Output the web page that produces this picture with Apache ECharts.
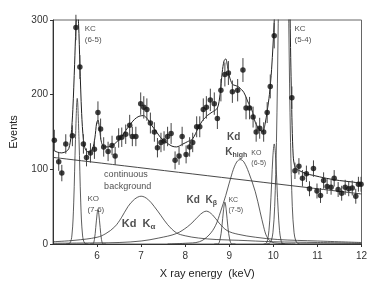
<!DOCTYPE html>
<html><head><meta charset="utf-8">
<script src="https://cdn.jsdelivr.net/npm/echarts@6/dist/echarts.min.js"></script>
<style>html,body{margin:0;padding:0;background:#fff}#c{width:382px;height:288px}</style>
</head><body><div id="c"></div>
<script>
// ---- data ----
const xTicks = [5, 6, 7, 8, 9, 10, 11, 12];
const yTicks = [0, 100, 200, 300];

const pointX = [5.03,5.13,5.20,5.29,5.44,5.52,5.61,5.69,5.76,5.85,5.94,6.02,6.08,6.15,6.25,6.34,6.41,6.49,6.56,6.65,6.74,6.80,6.88,6.99,7.06,7.13,7.21,7.30,7.37,7.45,7.52,7.60,7.68,7.77,7.86,7.93,8.02,8.10,8.17,8.26,8.33,8.41,8.48,8.57,8.66,8.73,8.81,8.90,8.98,9.07,9.19,9.31,9.38,9.46,9.54,9.61,9.69,9.78,9.86,9.93,10.02,10.42,10.49,10.58,10.66,10.75,10.82,10.91,10.99,11.07,11.14,11.22,11.31,11.38,11.47,11.55,11.63,11.71,11.79,11.87,11.93,11.99];
const pointY = [139,110,95,134,145,290,237,134,116,122,127,176,154,130,124,132,118,142,143,147,159,144,144,188,183,180,162,150,129,136,138,144,148,112,118,144,120,130,136,157,157,180,183,193,188,168,206,227,229,204,206,233,182,182,170,150,155,150,176,211,279,196,98,104,88,94,74,101,71,65,85,77,76,88,73,68,76,74,75,64,80,80];
const pointErr = [14,12,11,13,14,17,16,13,12,13,13,15,14,13,13,13,12,13,13,13,14,13,13,15,15,15,14,13,13,13,13,13,14,12,12,13,12,13,13,14,14,15,15,15,15,14,15,16,16,15,15,16,15,15,14,13,14,13,14,16,17,15,11,11,11,11,10,11,10,10,11,10,10,11,10,10,10,10,10,10,10,10];

const fitCurve = [[5.00,126],[5.10,123],[5.20,122],[5.30,124],[5.36,128],[5.41,145],[5.45,180],[5.49,240],[5.52,290],[5.55,315],[5.58,295],[5.61,240],[5.65,175],[5.69,140],[5.74,126],[5.82,123],[5.90,128],[5.95,142],[5.99,162],[6.02,166],[6.06,152],[6.10,136],[6.16,130],[6.25,130],[6.35,132],[6.45,137],[6.55,143],[6.65,152],[6.75,160],[6.85,167],[6.95,171],[7.05,172],[7.15,167],[7.25,158],[7.35,150],[7.45,142],[7.57,136],[7.70,131],[7.80,130],[7.95,134],[8.05,137],[8.17,141],[8.30,156],[8.39,165],[8.50,172],[8.62,177],[8.73,182],[8.79,200],[8.84,230],[8.88,245],[8.92,248],[8.96,238],[9.00,225],[9.07,214],[9.15,212],[9.22,210],[9.33,203],[9.44,188],[9.51,180],[9.59,163],[9.70,152],[9.76,151],[9.81,160],[9.86,178],[9.91,200],[9.96,234],[10.02,299],[10.07,380],[10.12,520],[10.18,760],[10.23,900],[10.28,720],[10.33,480],[10.38,300],[10.41,200],[10.45,118],[10.50,102],[10.60,98],[10.75,94],[10.90,92],[11.20,88],[11.50,85],[11.80,83],[12.00,81]];
const background = [[5.0,116],[12.0,67]];
const kcPeak65 = [[5.30,0],[5.38,1],[5.43,12],[5.47,55],[5.51,140],[5.55,195],[5.59,140],[5.63,55],[5.67,12],[5.72,1],[5.80,0]];
const koPeak76 = [[5.84,0],[5.90,0],[5.94,6],[5.97,22],[6.00,40],[6.02,46],[6.04,40],[6.07,22],[6.10,6],[6.14,0],[6.20,0]];
const kdKalpha = [[5.0,3],[5.5,5],[6.0,9],[6.2,14],[6.4,23],[6.55,35],[6.7,50],[6.85,60],[7.0,64],[7.15,60],[7.3,50],[7.45,38],[7.6,26],[7.8,15],[8.0,11],[8.3,8],[8.7,6],[9.2,5],[10,3],[11,2],[12,1]];
const kdKbeta = [[5.0,1],[6.0,1.5],[6.5,2],[7.0,4],[7.4,8],[7.8,14],[8.05,23],[8.2,31],[8.35,40],[8.48,44],[8.62,39],[8.77,28],[8.95,18],[9.2,13],[9.6,9],[10.1,6],[11,4],[12,2]];
const kcPeak75 = [[8.66,0],[8.74,0],[8.79,6],[8.83,22],[8.87,46],[8.90,56],[8.93,46],[8.97,22],[9.01,6],[9.06,0],[9.14,0]];
const kdKhigh = [[7.6,0],[8.0,1],[8.32,3],[8.54,12],[8.69,25],[8.80,43],[8.92,65],[9.07,96],[9.17,110],[9.25,113],[9.33,110],[9.44,96],[9.59,70],[9.70,43],[9.78,23],[9.85,10],[9.95,3],[10.1,1],[10.5,0]];
const koPeak65 = [[9.78,0],[9.84,1],[9.87,6],[9.90,18],[9.93,44],[9.96,81],[9.99,118],[10.02,134],[10.05,118],[10.08,81],[10.11,44],[10.14,18],[10.17,6],[10.20,1],[10.26,0]];
const kcPeak54 = [[9.85,0],[9.91,1],[9.95,4],[9.99,15],[10.03,50],[10.07,136],[10.11,295],[10.15,514],[10.19,716],[10.23,800],[10.27,716],[10.31,514],[10.35,295],[10.39,136],[10.43,50],[10.47,15],[10.51,4],[10.55,1],[10.62,0],[12,0]];

const annotations = [
  {at:[5.72,281], text:'KC\n(6-5)', size:8},
  {at:[10.48,281], text:'KC\n(5-4)', size:8},
  {at:[5.78,53], text:'KO\n(7-6)', size:8},
  {at:[6.16,85], text:'continuous\nbackground', size:9},
  {at:[6.56,27], text:'Kd  K{s|α}', size:11, bold:true},
  {at:[8.03,59], text:'Kd  K{s|β}', size:10, bold:true},
  {at:[8.98,52], text:'KC\n(7-5)', size:7},
  {at:[8.95,143], text:'Kd', size:10, bold:true},
  {at:[8.91,123], text:'K{s|high}', size:10, bold:true},
  {at:[9.50,115], text:'KO\n(6-5)', size:7}
];

// ---- chart ----
const chart = echarts.init(document.getElementById('c'), null, {renderer:'canvas'});
const FONT = 'Liberation Sans, Arial, sans-serif';
function comp(data, w){
  return {type:'line', data:data, smooth:0.35, showSymbol:false, silent:true,
    lineStyle:{color:'#333', width:w||0.8}, z:2};
}
const errData = pointX.map((x,i)=>[x, pointY[i]-pointErr[i], pointY[i]+pointErr[i]]);
const scatterData = pointX.map((x,i)=>[x, pointY[i]]);

chart.setOption({
  animation:false,
  backgroundColor:'#fff',
  grid:{left:48.5, right:20.5, top:20, bottom:44, show:true, borderColor:'#666', borderWidth:1},
  xAxis:{type:'value', min:xTicks[0], max:xTicks[xTicks.length-1], interval:1,
    name:'X ray energy  (keV)', nameLocation:'middle', nameGap:24,
    nameTextStyle:{fontFamily:FONT, fontSize:11, color:'#222'},
    axisLine:{show:true, onZero:false, lineStyle:{color:'#333', width:1}},
    axisTick:{show:true, length:3, lineStyle:{color:'#333'}},
    axisLabel:{showMinLabel:false, fontFamily:FONT, fontSize:10, color:'#333', margin:7},
    splitLine:{show:false}},
  yAxis:{type:'value', min:yTicks[0], max:yTicks[yTicks.length-1], interval:100,
    name:'Events', nameLocation:'middle', nameGap:34,
    nameTextStyle:{fontFamily:FONT, fontSize:11, color:'#222'},
    axisLine:{show:true, lineStyle:{color:'#333', width:1}},
    axisTick:{show:true, length:3, lineStyle:{color:'#333'}},
    axisLabel:{fontFamily:FONT, fontSize:10, color:'#333', margin:5},
    splitLine:{show:false}},
  series:[
    comp(background, 0.9),
    comp(kcPeak65), comp(koPeak76), comp(kdKalpha), comp(kdKbeta),
    comp(kcPeak75), comp(kdKhigh), comp(koPeak65), comp(kcPeak54),
    {type:'line', data:fitCurve, smooth:0.3, showSymbol:false, silent:true,
      lineStyle:{color:'#222', width:1}, z:3},
    {type:'custom', data:errData, z:4, silent:true,
      renderItem:function(params, api){
        const a = api.coord([api.value(0), api.value(1)]);
        const b = api.coord([api.value(0), api.value(2)]);
        return {type:'line', shape:{x1:a[0], y1:a[1], x2:b[0], y2:b[1]},
          style:{stroke:'#444', lineWidth:1}};
      }},
    {type:'scatter', data:scatterData, symbol:'circle', symbolSize:5.5, z:5,
      itemStyle:{color:'#111'}},
    {type:'scatter', symbolSize:0, silent:true, z:6,
      data:annotations.map(a=>({value:a.at,
        label:{show:true, position:[0,0], align:'left', verticalAlign:'middle',
          formatter:a.text, fontFamily:FONT, fontSize:a.size,
          fontWeight:a.bold?'bold':'normal', color:'#222', lineHeight:a.size+3,
          rich:{s:{fontFamily:FONT, fontSize:Math.round(a.size*0.7), fontWeight:'bold', color:'#222', padding:[Math.round(a.size*0.55),0,0,0]}}}}))}
  ]
});
</script></body></html>
